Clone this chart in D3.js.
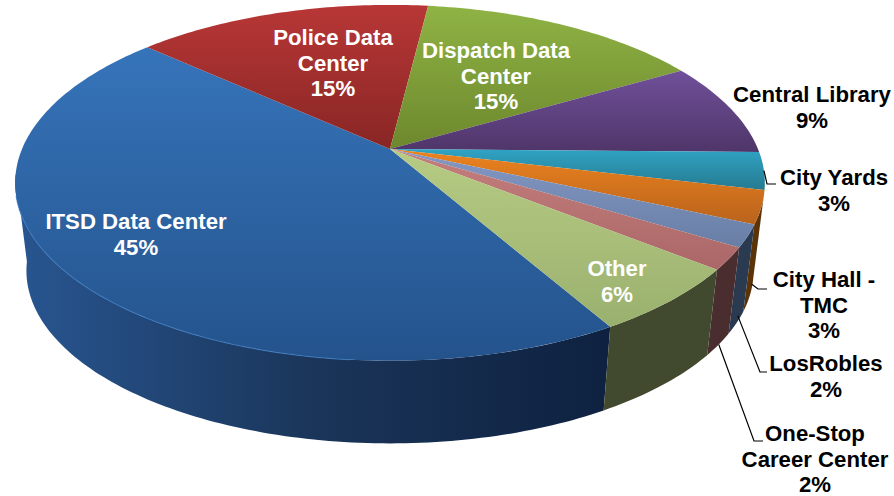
<!DOCTYPE html>
<html><head><meta charset="utf-8">
<script src="https://cdn.jsdelivr.net/npm/d3@7"></script>
<style>html,body{margin:0;padding:0;background:#fff}svg{display:block}text{font-family:"Liberation Sans",Arial,sans-serif;font-weight:700;font-size:22.2px}</style>
</head><body><div id="c"></div>
<script>
const categories=["ITSD Data Center","Police Data Center","Dispatch Data Center","Central Library","City Yards","City Hall - TMC","LosRobles","One-Stop Career Center","Other"];
const values=[45,15.3,14.7,8.6,3.4,3,2,2,6];
const labelLines=[["ITSD Data Center"],["Police Data","Center"],["Dispatch Data","Center"],["Central Library"],["City Yards"],["City Hall -","TMC"],["LosRobles"],["One-Stop","Career Center"],["Other"]];
const topColors=[["#3674ba","#24538c"],["#b83736","#882625"],["#8fb345","#6d882d"],["#70509a","#4f3569"],["#30a3c4","#257a90"],["#ec831f","#b9631c"],["#8399c4","#687ea5"],["#c47e7e","#ab6767"],["#b6cc84","#9ab06e"]];
const sideColors=["url(#sideBlue)","#5c1f1e","#4f6020","#3a2650","#1b5566","#5c3207","#2a3a50","#4a2d2e","#414a2e"];
const textColors=["#fff","#fff","#fff","#000","#000","#000","#000","#000","#fff"];

// layout of the tilted disc
const W=894,H=496,rad=Math.PI/180;
const disc={cx:390,cy:149,kx:368,ky:171.5,p:0.19};
const drop=89,shrink=0.97;
const visibleFrom=103*rad,visibleTo=262*rad;
const labelAt=[[136,229],[333,45],[496,58],[812,102],[834,185],[824,287],[826,371],[815,441],[617,276]];
const lineStep=25.7;
const leaderEnds=[null,null,null,null,[[767,184],[776,184]],[[758,289],[767,289]],[[760,372],[767,372]],[[754,441],[763,441]],null];
const leaderDepth=[0,0,0,0,0,0.88,0.92,1,0];

function project(a,depth){
  const f=1-(1-shrink)*depth;
  const X=Math.sin(a),Y=-Math.cos(a),w=1-disc.p*Y;
  return [disc.cx+f*disc.kx*X/w,disc.cy+drop*depth+f*disc.ky*Y/w];
}
const arcs=d3.pie().sort(null).value(d=>d).startAngle(150*rad).endAngle(510*rad)(values);
const samples=(a0,a1)=>{const n=Math.max(2,Math.ceil((a1-a0)/rad));return d3.range(n+1).map(i=>a0+(a1-a0)*i/n);};
const line=d3.line();
const svg=d3.select("#c").append("svg").attr("width",W).attr("height",H);
const defs=svg.append("defs");
function grad(id,attrs,stops){
  const g=defs.append("linearGradient").attr("id",id).attr("gradientUnits","userSpaceOnUse");
  Object.entries(attrs).forEach(([k,v])=>g.attr(k,v));
  stops.forEach(([o,c])=>g.append("stop").attr("offset",o).attr("stop-color",c));
}
grad("sideBlue",{x1:20,x2:610,y1:0,y2:0},[[0,"#285590"],[.5,"#1a3559"],[1,"#0e2140"]]);
arcs.forEach((d,i)=>{
  const ys=samples(d.startAngle,d.endAngle).map(a=>project(a,0)[1]).concat(disc.cy);
  grad("top"+i,{x1:0,x2:0,y1:d3.min(ys),y2:d3.max(ys)},[[0,topColors[i][0]],[1,topColors[i][1]]]);
});
// side wall
svg.append("g").selectAll("path").data(arcs).join("path").each(function(d,i){
  const shift=d.startAngle>=2*Math.PI?2*Math.PI:0;
  const a0=Math.max(d.startAngle-shift,visibleFrom),a1=Math.min(d.endAngle-shift,visibleTo);
  if(a1<=a0){d3.select(this).remove();return;}
  const as=samples(a0,a1);
  const pts=as.map(a=>project(a,0)).concat(as.slice().reverse().map(a=>project(a,1)));
  d3.select(this).attr("d",line(pts)+"Z").attr("fill",sideColors[i]);
});
// top face
svg.append("g").selectAll("path").data(arcs).join("path")
  .attr("d",d=>line([[disc.cx,disc.cy]].concat(samples(d.startAngle,d.endAngle).map(a=>project(a,0))))+"Z")
  .attr("fill",(d,i)=>`url(#top${i})`);
// rim highlight on the front-left
svg.append("path").attr("fill","none").attr("stroke","#3b78bd").attr("stroke-width",1.2).attr("opacity",.75)
  .attr("d",line(samples(arcs[0].startAngle+35*rad,arcs[0].startAngle+105*rad).map(a=>project(a,0))));
// leaders
svg.append("g").selectAll("path").data(arcs.filter((d,i)=>leaderEnds[i])).join("path")
  .attr("fill","none").attr("stroke","#000").attr("stroke-width",1.2)
  .attr("d",d=>{const i=d.index;return line([project((d.startAngle+d.endAngle)/2,leaderDepth[i])].concat(leaderEnds[i]));});
// labels
svg.append("g").selectAll("text").data(categories).join("text")
  .attr("text-anchor","middle").attr("fill",(d,i)=>textColors[i])
  .each(function(d,i){
    const t=d3.select(this),[x,y]=labelAt[i];
    labelLines[i].concat([Math.round(values[i])+"%"]).forEach((s,j)=>t.append("tspan").attr("x",x).attr("y",y+j*lineStep).text(s));
  });
</script></body></html>
